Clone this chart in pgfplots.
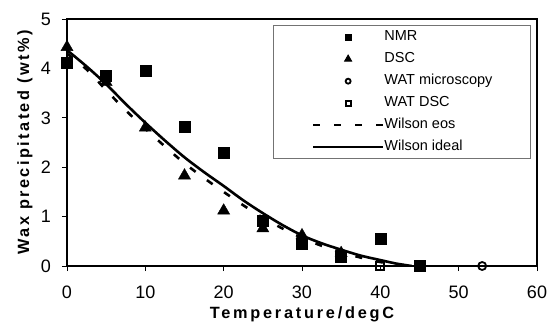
\documentclass[border=0pt]{standalone}
\usepackage{fontspec}
\setmainfont{Liberation Sans}
\newfontfamily\xlblfont[LetterSpace=17]{Liberation Sans}
\newfontfamily\ylblfont[LetterSpace=15]{Liberation Sans}
\usepackage{pgfplots}
\pgfplotsset{compat=1.18}
\pgfplotsset{
  markleg/.style={legend image code/.code={\path (0pt,0pt) (70pt,0pt); \draw[##1, mark size=#1] plot coordinates {(35pt,0pt)};}},
  lineleg/.style={legend image code/.code={\draw[#1] (0pt,0pt) -- (70pt,0pt);}},
}
\begin{document}
\begin{tikzpicture}
\useasboundingbox (-67pt,-56pt) rectangle (481pt,266pt);
\begin{axis}[
  at={(0pt,0pt)}, anchor=south west,
  scale only axis, width=470pt, height=247pt,
  xmin=0, xmax=60, ymin=0, ymax=5,
  xtick={0,10,20,30,40,50,60},
  ytick={0,1,2,3,4,5},
  tick align=outside,
  major tick length=5pt,
  tick style={black, line width=0.8pt},
  xtick pos=bottom, ytick pos=left,
  axis line style={line width=1.6pt},
  /pgf/number format/assume math mode=true,
  tick label style={font=\fontsize{18}{21}\selectfont, inner sep=0pt},
  xticklabel style={anchor=north, yshift=-15pt},
  yticklabel style={anchor=east, xshift=-11pt},
  xlabel={\xlblfont\bfseries Temperature/degC},
  ylabel={\ylblfont\bfseries Wax precipitated (wt\%)},
  xlabel style={at={(axis description cs:0.5,0)}, anchor=base, yshift=-52pt, font=\fontsize{16.3}{19}\selectfont},
  ylabel style={at={(axis description cs:0,0.5)}, anchor=center, yshift=42pt, font=\fontsize{16.3}{19}\selectfont},
  legend style={at={(0.987,0.976)}, anchor=north east, draw=black!55, line width=1pt, fill=white,
    font=\fontsize{14.5}{17}\selectfont, inner xsep=38pt, inner ysep=5pt, row sep=8.5pt,
    nodes={inner sep=0pt, text height=10.5pt, text depth=3pt, anchor=west}},
  legend cell align=left,
]
\addplot[only marks, mark=square*, mark size=5.5pt, black, markleg=3pt]
  coordinates {(0,4.12)(5,3.85)(10,3.95)(15,2.83)(20,2.29)(25,0.91)(30,0.46)(35,0.19)(40,0.56)(45,0.0)};
\addlegendentry{NMR}
\addplot[only marks, mark=triangle*, mark size=7pt, black, markleg=4pt]
  coordinates {(0,4.43)(5,3.72)(10,2.80)(15,1.83)(20,1.12)(25,0.76)(30,0.62)(35,0.26)};
\addlegendentry{DSC}
\addplot[only marks, mark=o, mark size=4pt, black, mark options={line width=1.8pt}, markleg=2.5pt]
  coordinates {(53,0)};
\addlegendentry{WAT microscopy}
\addplot[only marks, mark=square, mark size=4pt, black, mark options={line width=1.8pt}, markleg=2.5pt]
  coordinates {(40,0)};
\addlegendentry{WAT DSC}
\addplot[black, line width=2.6pt, dash pattern=on 7pt off 14pt, no marks, smooth, lineleg]
  coordinates {(0,4.30)(2.5,3.98)(5,3.56)(7.5,3.15)(10,2.78)(12.5,2.42)(15,2.08)(17.5,1.78)(20,1.50)(22.5,1.23)(25,0.98)(27.5,0.76)(30,0.57)(32.5,0.41)(35,0.28)(37.5,0.17)(40,0.08)(42,0.03)(44,0)};
\addlegendentry{Wilson eos}
\addplot[black, line width=2.6pt, no marks, smooth, lineleg]
  coordinates {(0,4.37)(2.5,4.04)(5,3.68)(7.5,3.28)(10,2.90)(12.5,2.54)(15,2.20)(17.5,1.90)(20,1.62)(22.5,1.33)(25,1.07)(27.5,0.83)(30,0.62)(32.5,0.46)(35,0.33)(37.5,0.21)(40,0.12)(42,0.05)(44,0)};
\addlegendentry{Wilson ideal}
\end{axis}
\end{tikzpicture}
\end{document}
